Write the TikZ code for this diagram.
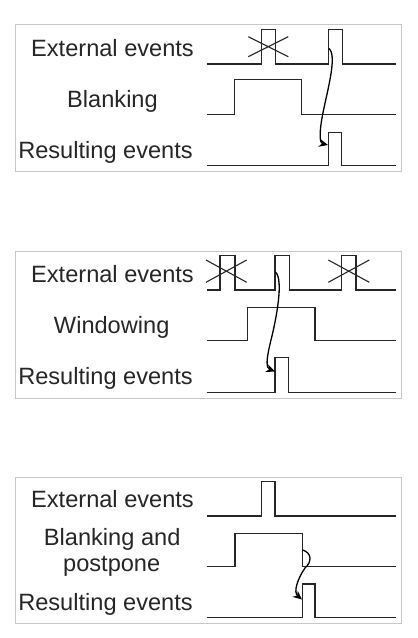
\documentclass[tikz,border=0pt]{standalone}
\usepackage{fontspec}
\setmainfont{Liberation Sans}
\usetikzlibrary{arrows.meta}
\begin{document}
\begin{tikzpicture}[x=1pt,y=-1pt,
  panel/.style={draw=black!22,line width=0.9pt},
  sig/.style={draw=black!85,line width=1.5pt,line join=miter},
  cross/.style={draw=black!85,line width=1.1pt},
  lbl/.style={font=\fontsize{23.6}{28}\selectfont,text=black!85,inner sep=0pt,anchor=base},
  link/.style={draw=black,line width=1.3pt,-{Stealth[length=9pt,width=8pt]}}]
\useasboundingbox (0,0) rectangle (418,638);
% ---------------- panel 1
\draw[panel] (15,24.5) rectangle (401,171.5);
\node[lbl] (e1) at (112.5,56.7) {External events};
\node[lbl] (b1) at (112.5,107.3) {Blanking};
\node[lbl] (r1) at (105.5,158.3) {Resulting events};
\draw[sig] (206.7,64) -- (261.7,64) -- (261.7,29.3) -- (275.3,29.3) -- (275.3,64)
  -- (328.3,64) -- (328.3,29.3) -- (342.7,29.3) -- (342.7,64) -- (396,64);
\draw[cross] (248.3,36.7) -- (288.3,56.7) (248.3,56.7) -- (288.3,36.7);
\draw[sig] (206.7,114.3) -- (234.3,114.3) -- (234.3,79.3) -- (301.7,79.3) -- (301.7,114.3) -- (396,114.3);
\draw[sig] (206.7,165.7) -- (328.3,165.7) -- (328.3,132.3) -- (341.7,132.3) -- (341.7,165.7) -- (396,165.7);
\coordinate (s1) at (329,48.5);
\coordinate (t1) at (328,145);
\draw[link] (s1) .. controls (338,56) and (326,95) .. (322,118) .. controls (319,135) and (320,143) .. (t1);
% ---------------- panel 2
\draw[panel] (15,251) rectangle (401,398.3);
\node[lbl] (e2) at (112.5,282.7) {External events};
\node[lbl] (w2) at (111.7,333.3) {Windowing};
\node[lbl] (r2) at (105.5,384.3) {Resulting events};
\draw[sig] (206.7,290) -- (220,290) -- (220,255.3) -- (235,255.3) -- (235,290)
  -- (275,290) -- (275,255.3) -- (289.3,255.3) -- (289.3,290)
  -- (341.7,290) -- (341.7,255.3) -- (356,255.3) -- (356,290) -- (396,290);
\draw[cross] (206,260) -- (246.7,282.3) (206,282.3) -- (246.7,260);
\draw[cross] (328.3,260) -- (369.3,282.3) (328.3,282.3) -- (369.3,260);
\draw[sig] (206.7,340.7) -- (247.3,340.7) -- (247.3,307.3) -- (315,307.3) -- (315,340.7) -- (396,340.7);
\draw[sig] (206.7,392.3) -- (275,392.3) -- (275,357.3) -- (288.3,357.3) -- (288.3,392.3) -- (396,392.3);
\coordinate (s2) at (275.5,272);
\coordinate (t2) at (275,371.5);
\draw[link] (s2) .. controls (284,280) and (276,320) .. (271,340) .. controls (266,360) and (266,368) .. (t2);
% ---------------- panel 3
\draw[panel] (15,477.7) rectangle (401,623.3);
\node[lbl] (e3) at (112.5,507.7) {External events};
\node[lbl] (b3) at (112.2,545) {Blanking and};
\node[lbl] (p3) at (111.7,571.7) {postpone};
\node[lbl] (r3) at (105.5,610) {Resulting events};
\draw[sig] (206.7,516) -- (261.7,516) -- (261.7,481.7) -- (275,481.7) -- (275,516) -- (396,516);
\draw[sig] (206.7,566.7) -- (235,566.7) -- (235,533.3) -- (302.7,533.3) -- (302.7,566.7) -- (396,566.7);
\draw[sig] (206.7,617.7) -- (302.7,617.7) -- (302.7,584) -- (315,584) -- (315,617.7) -- (396,617.7);
\coordinate (s3) at (302.7,550);
\coordinate (t3) at (302,599.5);
\draw[link] (s3) .. controls (312,553) and (312,562) .. (305,568) .. controls (298,578) and (293,592) .. (t3);
\end{tikzpicture}
\end{document}
